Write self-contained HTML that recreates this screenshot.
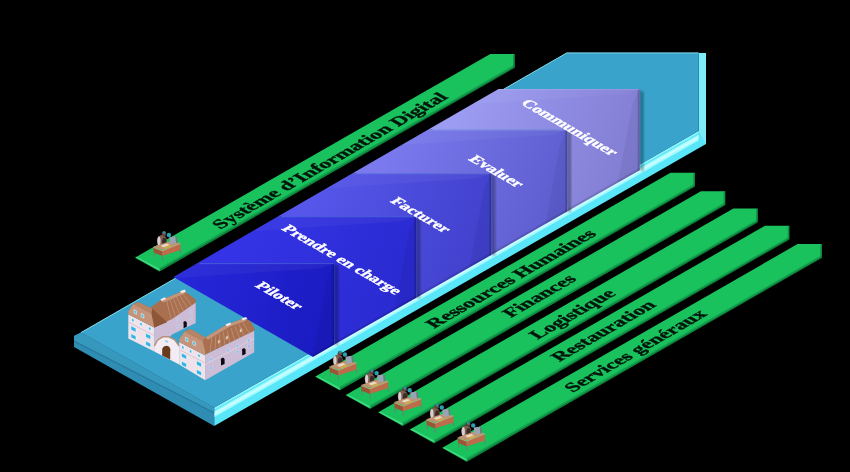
<!DOCTYPE html>
<html><head><meta charset="utf-8"><title>Diagram</title>
<style>
html,body{margin:0;padding:0;background:#000;}
body{width:850px;height:472px;overflow:hidden;}
svg{display:block;filter:blur(0.45px);}
text{font-family:"Liberation Serif",serif;font-weight:bold;}
.g{fill:#04140a;font-size:20px;stroke:#04140a;stroke-width:0.5px;}
.c{fill:#fff;font-size:20px;stroke:#fff;stroke-width:0.55px;}
</style></head><body>
<svg width="850" height="472" viewBox="0 0 850 472">
<defs>
<linearGradient id="gbar" gradientUnits="userSpaceOnUse" x1="0" y1="0" x2="13" y2="22.8">
<stop offset="0" stop-color="#22c465"/><stop offset="0.8" stop-color="#1fbf60"/><stop offset="1" stop-color="#0c7a38"/></linearGradient>
<linearGradient id="side" gradientUnits="userSpaceOnUse" x1="0" y1="0" x2="-9" y2="15.6">
<stop offset="0" stop-color="#62e6f6"/><stop offset="0.3" stop-color="#b4ffff"/><stop offset="0.5" stop-color="#6eeaf8"/><stop offset="1" stop-color="#52dcee"/></linearGradient>
<filter id="sh" x="-10%" y="-10%" width="130%" height="130%"><feGaussianBlur stdDeviation="1.2"/></filter>
</defs>
<rect width="850" height="472" fill="#000"/>

<polygon points="214.2,407.8 698.6,131.0 706.0,126.7 706.0,144.0 214.2,426.1" fill="#58e6f8"/>
<polygon points="214.2,411.3 698.6,134.5 698.6,140.5 214.2,417.3" fill="#b8ffff" opacity="0.8"/>
<polygon points="214.2,412.8 698.6,136.0 698.6,138.5 214.2,415.3" fill="#d8ffff" opacity="0.7"/>
<polygon points="214.2,407.8 698.6,131.0 698.6,133.0 214.2,409.8" fill="#8ff4ff"/>
<polygon points="698.6,52.9 706.0,52.9 706.0,144.0 698.6,131.0" fill="#7cecf8"/>
<polygon points="81.0,332.6 214.2,407.8 214.2,426.1 74.0,347.0 74.0,336.0" fill="#2f8cb2"/>
<polygon points="81.0,332.6 214.2,407.8 214.2,412.3 74.0,340.5 74.0,336.0" fill="#3798bd"/>
<polygon points="74.0,340.5 214.2,412.3 214.2,413.6 74.0,341.8" fill="#27789c"/>
<polygon points="81.0,332.6 566.8,52.9 698.6,52.9 698.6,131.0 214.2,407.8" fill="#3aa3cc"/>
<polyline points="81.0,332.6 566.8,52.9 698.6,52.9" fill="none" stroke="#7fe0f0" stroke-width="1"/>
<polygon points="639.7,90.0 643.7,92.0 643.7,171.2 639.7,170.2" fill="#000" opacity="0.3" filter="url(#sh)"/>
<linearGradient id="cg4" gradientUnits="userSpaceOnUse" x1="458" y1="109" x2="640" y2="170"><stop offset="0" stop-color="#9c9cf2"/><stop offset="1" stop-color="#807cd2"/></linearGradient>
<polygon points="427.9,129.8 498.5,89.0 639.7,89.0 639.7,170.2 567.2,211.6 567.2,129.8" fill="url(#cg4)"/>
<polygon points="498.5,89.0 639.7,89.0 625.7,94.0 472.5,104.0" fill="#fff" opacity="0.04"/>
<polyline points="498.5,89.5 639.7,89.5" stroke="#fff" stroke-opacity="0.12" stroke-width="1" fill="none"/>
<polygon points="639.7,89.0 639.7,170.2 617.7,182.7 632.7,103.0" fill="#000" opacity="0.05"/>
<polygon points="639.7,89.0 639.7,170.2 637.7,171.3 637.7,90.2" fill="#000" opacity="0.18"/>
<polygon points="639.7,170.2 567.2,211.6 567.2,209.1 639.7,167.7" fill="#000" opacity="0.12"/>
<polygon points="567.2,130.8 571.2,132.8 571.2,212.6 567.2,211.6" fill="#000" opacity="0.3" filter="url(#sh)"/>
<linearGradient id="cg3" gradientUnits="userSpaceOnUse" x1="388" y1="150" x2="567" y2="212"><stop offset="0" stop-color="#7a7aee"/><stop offset="1" stop-color="#5c5cce"/></linearGradient>
<polygon points="352.6,173.3 427.9,129.8 567.2,129.8 567.2,211.6 491.3,255.0 491.3,173.3" fill="url(#cg3)"/>
<polygon points="427.9,129.8 567.2,129.8 553.2,134.8 401.9,144.8" fill="#fff" opacity="0.04"/>
<polyline points="427.9,130.3 567.2,130.3" stroke="#fff" stroke-opacity="0.12" stroke-width="1" fill="none"/>
<polygon points="567.2,129.8 567.2,211.6 545.2,224.2 560.2,143.8" fill="#000" opacity="0.05"/>
<polygon points="567.2,129.8 567.2,211.6 565.2,212.7 565.2,131.0" fill="#000" opacity="0.18"/>
<polygon points="567.2,211.6 491.3,255.0 491.3,252.5 567.2,209.1" fill="#000" opacity="0.12"/>
<polygon points="491.3,174.3 495.3,176.3 495.3,256.0 491.3,255.0" fill="#000" opacity="0.3" filter="url(#sh)"/>
<linearGradient id="cg2" gradientUnits="userSpaceOnUse" x1="313" y1="193" x2="491" y2="255"><stop offset="0" stop-color="#5656ea"/><stop offset="1" stop-color="#4040cc"/></linearGradient>
<polygon points="278.2,216.3 352.6,173.3 491.3,173.3 491.3,255.0 416.3,297.8 416.3,216.3" fill="url(#cg2)"/>
<polygon points="352.6,173.3 491.3,173.3 477.3,178.3 326.6,188.3" fill="#fff" opacity="0.04"/>
<polyline points="352.6,173.8 491.3,173.8" stroke="#fff" stroke-opacity="0.12" stroke-width="1" fill="none"/>
<polygon points="491.3,173.3 491.3,255.0 469.3,267.5 484.3,187.3" fill="#000" opacity="0.05"/>
<polygon points="491.3,173.3 491.3,255.0 489.3,256.1 489.3,174.5" fill="#000" opacity="0.18"/>
<polygon points="491.3,255.0 416.3,297.8 416.3,295.3 491.3,252.5" fill="#000" opacity="0.12"/>
<polygon points="416.3,217.3 420.3,219.3 420.3,298.8 416.3,297.8" fill="#000" opacity="0.3" filter="url(#sh)"/>
<linearGradient id="cg1" gradientUnits="userSpaceOnUse" x1="238" y1="236" x2="416" y2="298"><stop offset="0" stop-color="#3434e6"/><stop offset="1" stop-color="#2a2ad0"/></linearGradient>
<polygon points="197.1,263.2 278.2,216.3 416.3,216.3 416.3,297.8 334.4,344.6 334.4,263.2" fill="url(#cg1)"/>
<polygon points="278.2,216.3 416.3,216.3 402.3,221.3 252.2,231.3" fill="#fff" opacity="0.04"/>
<polyline points="278.2,216.8 416.3,216.8" stroke="#fff" stroke-opacity="0.12" stroke-width="1" fill="none"/>
<polygon points="416.3,216.3 416.3,297.8 394.3,310.4 409.3,230.3" fill="#000" opacity="0.05"/>
<polygon points="416.3,216.3 416.3,297.8 414.3,299.0 414.3,217.5" fill="#000" opacity="0.18"/>
<polygon points="416.3,297.8 334.4,344.6 334.4,342.1 416.3,295.3" fill="#000" opacity="0.12"/>
<polygon points="334.4,264.2 338.4,266.2 338.4,345.6 334.4,344.6" fill="#000" opacity="0.3" filter="url(#sh)"/>
<linearGradient id="cg0" gradientUnits="userSpaceOnUse" x1="157" y1="283" x2="334" y2="345"><stop offset="0" stop-color="#2828dc"/><stop offset="1" stop-color="#1a1ac0"/></linearGradient>
<polygon points="173.4,276.9 197.1,263.2 334.4,263.2 334.4,344.6 313.0,356.9" fill="url(#cg0)"/>
<polygon points="197.1,263.2 334.4,263.2 320.4,268.2 171.1,278.2" fill="#fff" opacity="0.04"/>
<polyline points="197.1,263.7 334.4,263.7" stroke="#fff" stroke-opacity="0.12" stroke-width="1" fill="none"/>
<polygon points="334.4,263.2 334.4,344.6 312.4,357.2 327.4,277.2" fill="#000" opacity="0.05"/>
<polygon points="334.4,263.2 334.4,344.6 332.4,345.8 332.4,264.4" fill="#000" opacity="0.18"/>
<polygon points="334.4,344.6 313.0,356.8 313.0,354.3 334.4,342.1" fill="#000" opacity="0.12"/>
<polygon points="135.2,257.6 159.5,271.0 514.6,67.2 514.6,67.9 159.5,271.7 135.2,258.0" fill="#0a6a30"/>
<polygon points="135.2,257.6 490.3,53.9 514.6,53.9 514.6,67.2 159.5,271.0" fill="#1ac25e"/>
<polygon points="159.5,271.0 514.6,67.2 514.6,64.6 158.3,268.4" fill="#0e8a42" opacity="0.45"/>
<polygon points="159.5,271.0 514.6,67.2 514.6,66.0 159.0,269.8" fill="#0a6a30" opacity="0.55"/>
<polygon points="514.6,53.9 514.6,67.2 513.0,66.8 513.0,54.9" fill="#0a6a30" opacity="0.5"/>
<polygon points="135.2,257.6 159.5,271.0 160.1,269.0 137.8,257.3" fill="#5cf09a" opacity="0.55"/>
<polygon points="315.4,376.5 339.7,389.9 694.8,186.1 694.8,186.8 339.7,390.6 315.4,376.9" fill="#0a6a30"/>
<polygon points="315.4,376.5 670.5,172.8 694.8,172.8 694.8,186.1 339.7,389.9" fill="#1ac25e"/>
<polygon points="339.7,389.9 694.8,186.1 694.8,183.5 338.5,387.3" fill="#0e8a42" opacity="0.45"/>
<polygon points="339.7,389.9 694.8,186.1 694.8,184.9 339.2,388.7" fill="#0a6a30" opacity="0.55"/>
<polygon points="694.8,172.8 694.8,186.1 693.2,185.7 693.2,173.8" fill="#0a6a30" opacity="0.5"/>
<polygon points="315.4,376.5 339.7,389.9 340.3,387.9 318.0,376.2" fill="#5cf09a" opacity="0.55"/>
<polygon points="345.8,395.0 370.1,408.4 725.2,204.6 725.2,205.3 370.1,409.1 345.8,395.4" fill="#0a6a30"/>
<polygon points="345.8,395.0 700.9,191.3 725.2,191.3 725.2,204.6 370.1,408.4" fill="#1ac25e"/>
<polygon points="370.1,408.4 725.2,204.6 725.2,202.0 368.9,405.8" fill="#0e8a42" opacity="0.45"/>
<polygon points="370.1,408.4 725.2,204.6 725.2,203.4 369.6,407.2" fill="#0a6a30" opacity="0.55"/>
<polygon points="725.2,191.3 725.2,204.6 723.6,204.2 723.6,192.3" fill="#0a6a30" opacity="0.5"/>
<polygon points="345.8,395.0 370.1,408.4 370.7,406.4 348.4,394.7" fill="#5cf09a" opacity="0.55"/>
<polygon points="378.3,412.2 402.6,425.6 757.7,221.8 757.7,222.5 402.6,426.3 378.3,412.6" fill="#0a6a30"/>
<polygon points="378.3,412.2 733.4,208.5 757.7,208.5 757.7,221.8 402.6,425.6" fill="#1ac25e"/>
<polygon points="402.6,425.6 757.7,221.8 757.7,219.2 401.4,423.0" fill="#0e8a42" opacity="0.45"/>
<polygon points="402.6,425.6 757.7,221.8 757.7,220.6 402.1,424.4" fill="#0a6a30" opacity="0.55"/>
<polygon points="757.7,208.5 757.7,221.8 756.1,221.4 756.1,209.5" fill="#0a6a30" opacity="0.5"/>
<polygon points="378.3,412.2 402.6,425.6 403.2,423.6 380.9,411.9" fill="#5cf09a" opacity="0.55"/>
<polygon points="409.9,429.4 434.2,442.8 789.3,239.0 789.3,239.7 434.2,443.5 409.9,429.8" fill="#0a6a30"/>
<polygon points="409.9,429.4 765.0,225.7 789.3,225.7 789.3,239.0 434.2,442.8" fill="#1ac25e"/>
<polygon points="434.2,442.8 789.3,239.0 789.3,236.4 433.0,440.2" fill="#0e8a42" opacity="0.45"/>
<polygon points="434.2,442.8 789.3,239.0 789.3,237.8 433.7,441.6" fill="#0a6a30" opacity="0.55"/>
<polygon points="789.3,225.7 789.3,239.0 787.7,238.6 787.7,226.7" fill="#0a6a30" opacity="0.5"/>
<polygon points="409.9,429.4 434.2,442.8 434.8,440.8 412.5,429.1" fill="#5cf09a" opacity="0.55"/>
<polygon points="442.4,447.8 466.7,461.2 821.8,257.4 821.8,258.1 466.7,461.9 442.4,448.2" fill="#0a6a30"/>
<polygon points="442.4,447.8 797.5,244.1 821.8,244.1 821.8,257.4 466.7,461.2" fill="#1ac25e"/>
<polygon points="466.7,461.2 821.8,257.4 821.8,254.8 465.5,458.6" fill="#0e8a42" opacity="0.45"/>
<polygon points="466.7,461.2 821.8,257.4 821.8,256.2 466.2,460.0" fill="#0a6a30" opacity="0.55"/>
<polygon points="821.8,244.1 821.8,257.4 820.2,257.0 820.2,245.1" fill="#0a6a30" opacity="0.5"/>
<polygon points="442.4,447.8 466.7,461.2 467.3,459.2 445.0,447.5" fill="#5cf09a" opacity="0.55"/>
<text class="g" transform="matrix(0.8790,-0.5075,0.7735,0.4466,220.6,229.5)">Système d’Information Digital</text>
<text class="g" transform="matrix(0.8790,-0.5075,0.7735,0.4466,434.2,328.7)">Ressources Humaines</text>
<text class="g" transform="matrix(0.8790,-0.5075,0.7735,0.4466,511.0,318.0)">Finances</text>
<text class="g" transform="matrix(0.8790,-0.5075,0.7735,0.4466,537.8,339.8)">Logistique</text>
<text class="g" transform="matrix(0.8790,-0.5075,0.7735,0.4466,559.5,362.0)">Restauration</text>
<text class="g" transform="matrix(0.8790,-0.5075,0.7735,0.4466,572.7,392.7)">Services généraux</text>
<text class="c" transform="matrix(0.7274,0.4200,-0.6547,0.3780,254.3,286.0)">Piloter</text>
<text class="c" transform="matrix(0.7274,0.4200,-0.6547,0.3780,280.8,229.0)">Prendre en charge</text>
<text class="c" transform="matrix(0.7274,0.4200,-0.6547,0.3780,389.4,201.6)">Facturer</text>
<text class="c" transform="matrix(0.7274,0.4200,-0.6547,0.3780,467.8,159.5)">Evaluer</text>
<text class="c" transform="matrix(0.7274,0.4200,-0.6547,0.3780,520.0,103.6)">Communiquer</text>
<g><line x1="154.3" y1="252.6" x2="154.3" y2="257.0" stroke="#6f7d74" stroke-width="1"/><line x1="162.4" y1="256.0" x2="162.4" y2="260.4" stroke="#6f7d74" stroke-width="1"/><line x1="180.6" y1="250.0" x2="180.6" y2="253.6" stroke="#6f7d74" stroke-width="1"/><line x1="170.7" y1="246.2" x2="170.7" y2="249.2" stroke="#6f7d74" stroke-width="1"/><ellipse cx="161.9" cy="240.6" rx="5" ry="5.6" fill="#7d5f52"/><ellipse cx="159.0" cy="241.2" rx="1.6" ry="4.6" fill="#d9cfcf"/><ellipse cx="164.3" cy="241.7" rx="2.2" ry="4" fill="#3a2a2a"/><circle cx="163.9" cy="233.9" r="2.3" fill="#6a3f3a"/><circle cx="164.1" cy="232.6" r="1.5" fill="#2a8fa0"/><circle cx="168.9" cy="235.0" r="2.2" fill="#2aa0b0"/><polygon points="153.3,246.8 169.2,241.4 180.5,242.9 162.9,250.0" fill="#c39270"/><polygon points="160.7,245.7 166.7,243.6 169.7,244.8 163.7,247.2" fill="#e8dcc8"/><polygon points="163.7,247.6 169.7,245.4 171.7,246.2 165.7,248.6" fill="#d8b040"/><polygon points="169.4,237.2 175.5,236.3 176.1,243.3 170.4,244.2" fill="#9aa3b4"/><polygon points="175.5,236.3 177.1,237.2 177.5,242.6 176.1,243.3" fill="#6f7888"/><polygon points="153.3,247.3 162.2,251.0 162.4,256.0 153.8,252.6" fill="#9a5436"/><polygon points="162.2,251.0 180.5,243.6 180.6,250.0 162.4,256.0" fill="#bc6c4a"/><polyline points="153.3,247.3 162.2,250.8 180.5,243.4" fill="none" stroke="#e0b090" stroke-width="0.7"/></g>
<g><line x1="330.3" y1="372.1" x2="330.3" y2="376.5" stroke="#6f7d74" stroke-width="1"/><line x1="338.4" y1="375.5" x2="338.4" y2="379.9" stroke="#6f7d74" stroke-width="1"/><line x1="356.6" y1="369.5" x2="356.6" y2="373.1" stroke="#6f7d74" stroke-width="1"/><line x1="346.7" y1="365.7" x2="346.7" y2="368.7" stroke="#6f7d74" stroke-width="1"/><ellipse cx="337.9" cy="360.1" rx="5" ry="5.6" fill="#7d5f52"/><ellipse cx="335.0" cy="360.7" rx="1.6" ry="4.6" fill="#d9cfcf"/><ellipse cx="340.3" cy="361.2" rx="2.2" ry="4" fill="#3a2a2a"/><circle cx="339.9" cy="353.4" r="2.3" fill="#6a3f3a"/><circle cx="340.1" cy="352.1" r="1.5" fill="#2a8fa0"/><circle cx="344.9" cy="354.5" r="2.2" fill="#2aa0b0"/><polygon points="329.3,366.3 345.2,360.9 356.5,362.4 338.9,369.5" fill="#c39270"/><polygon points="336.7,365.2 342.7,363.1 345.7,364.3 339.7,366.7" fill="#e8dcc8"/><polygon points="339.7,367.1 345.7,364.9 347.7,365.7 341.7,368.1" fill="#d8b040"/><polygon points="345.4,356.7 351.5,355.8 352.1,362.8 346.4,363.7" fill="#9aa3b4"/><polygon points="351.5,355.8 353.1,356.7 353.5,362.1 352.1,362.8" fill="#6f7888"/><polygon points="329.3,366.8 338.2,370.5 338.4,375.5 329.8,372.1" fill="#9a5436"/><polygon points="338.2,370.5 356.5,363.1 356.6,369.5 338.4,375.5" fill="#bc6c4a"/><polyline points="329.3,366.8 338.2,370.3 356.5,362.9" fill="none" stroke="#e0b090" stroke-width="0.7"/></g>
<g><line x1="362.0" y1="390.7" x2="362.0" y2="395.1" stroke="#6f7d74" stroke-width="1"/><line x1="370.1" y1="394.1" x2="370.1" y2="398.5" stroke="#6f7d74" stroke-width="1"/><line x1="388.3" y1="388.1" x2="388.3" y2="391.7" stroke="#6f7d74" stroke-width="1"/><line x1="378.4" y1="384.3" x2="378.4" y2="387.3" stroke="#6f7d74" stroke-width="1"/><ellipse cx="369.6" cy="378.7" rx="5" ry="5.6" fill="#7d5f52"/><ellipse cx="366.7" cy="379.3" rx="1.6" ry="4.6" fill="#d9cfcf"/><ellipse cx="372.0" cy="379.8" rx="2.2" ry="4" fill="#3a2a2a"/><circle cx="371.6" cy="372.0" r="2.3" fill="#6a3f3a"/><circle cx="371.8" cy="370.7" r="1.5" fill="#2a8fa0"/><circle cx="376.6" cy="373.1" r="2.2" fill="#2aa0b0"/><polygon points="361.0,384.9 376.9,379.5 388.2,381.0 370.6,388.1" fill="#c39270"/><polygon points="368.4,383.8 374.4,381.7 377.4,382.9 371.4,385.3" fill="#e8dcc8"/><polygon points="371.4,385.7 377.4,383.5 379.4,384.3 373.4,386.7" fill="#d8b040"/><polygon points="377.1,375.3 383.2,374.4 383.8,381.4 378.1,382.3" fill="#9aa3b4"/><polygon points="383.2,374.4 384.8,375.3 385.2,380.7 383.8,381.4" fill="#6f7888"/><polygon points="361.0,385.4 369.9,389.1 370.1,394.1 361.5,390.7" fill="#9a5436"/><polygon points="369.9,389.1 388.2,381.7 388.3,388.1 370.1,394.1" fill="#bc6c4a"/><polyline points="361.0,385.4 369.9,388.9 388.2,381.5" fill="none" stroke="#e0b090" stroke-width="0.7"/></g>
<g><line x1="395.1" y1="407.9" x2="395.1" y2="412.3" stroke="#6f7d74" stroke-width="1"/><line x1="403.2" y1="411.3" x2="403.2" y2="415.7" stroke="#6f7d74" stroke-width="1"/><line x1="421.4" y1="405.3" x2="421.4" y2="408.9" stroke="#6f7d74" stroke-width="1"/><line x1="411.5" y1="401.5" x2="411.5" y2="404.5" stroke="#6f7d74" stroke-width="1"/><ellipse cx="402.7" cy="395.9" rx="5" ry="5.6" fill="#7d5f52"/><ellipse cx="399.8" cy="396.5" rx="1.6" ry="4.6" fill="#d9cfcf"/><ellipse cx="405.1" cy="397.0" rx="2.2" ry="4" fill="#3a2a2a"/><circle cx="404.7" cy="389.2" r="2.3" fill="#6a3f3a"/><circle cx="404.9" cy="387.9" r="1.5" fill="#2a8fa0"/><circle cx="409.7" cy="390.3" r="2.2" fill="#2aa0b0"/><polygon points="394.1,402.1 410.0,396.7 421.3,398.2 403.7,405.3" fill="#c39270"/><polygon points="401.5,401.0 407.5,398.9 410.5,400.1 404.5,402.5" fill="#e8dcc8"/><polygon points="404.5,402.9 410.5,400.7 412.5,401.5 406.5,403.9" fill="#d8b040"/><polygon points="410.2,392.5 416.3,391.6 416.9,398.6 411.2,399.5" fill="#9aa3b4"/><polygon points="416.3,391.6 417.9,392.5 418.3,397.9 416.9,398.6" fill="#6f7888"/><polygon points="394.1,402.6 403.0,406.3 403.2,411.3 394.6,407.9" fill="#9a5436"/><polygon points="403.0,406.3 421.3,398.9 421.4,405.3 403.2,411.3" fill="#bc6c4a"/><polyline points="394.1,402.6 403.0,406.1 421.3,398.7" fill="none" stroke="#e0b090" stroke-width="0.7"/></g>
<g><line x1="427.2" y1="425.1" x2="427.2" y2="429.5" stroke="#6f7d74" stroke-width="1"/><line x1="435.3" y1="428.5" x2="435.3" y2="432.9" stroke="#6f7d74" stroke-width="1"/><line x1="453.5" y1="422.5" x2="453.5" y2="426.1" stroke="#6f7d74" stroke-width="1"/><line x1="443.6" y1="418.7" x2="443.6" y2="421.7" stroke="#6f7d74" stroke-width="1"/><ellipse cx="434.8" cy="413.1" rx="5" ry="5.6" fill="#7d5f52"/><ellipse cx="431.9" cy="413.7" rx="1.6" ry="4.6" fill="#d9cfcf"/><ellipse cx="437.2" cy="414.2" rx="2.2" ry="4" fill="#3a2a2a"/><circle cx="436.8" cy="406.4" r="2.3" fill="#6a3f3a"/><circle cx="437.0" cy="405.1" r="1.5" fill="#2a8fa0"/><circle cx="441.8" cy="407.5" r="2.2" fill="#2aa0b0"/><polygon points="426.2,419.3 442.1,413.9 453.4,415.4 435.8,422.5" fill="#c39270"/><polygon points="433.6,418.2 439.6,416.1 442.6,417.3 436.6,419.7" fill="#e8dcc8"/><polygon points="436.6,420.1 442.6,417.9 444.6,418.7 438.6,421.1" fill="#d8b040"/><polygon points="442.3,409.7 448.4,408.8 449.0,415.8 443.3,416.7" fill="#9aa3b4"/><polygon points="448.4,408.8 450.0,409.7 450.4,415.1 449.0,415.8" fill="#6f7888"/><polygon points="426.2,419.8 435.1,423.5 435.3,428.5 426.7,425.1" fill="#9a5436"/><polygon points="435.1,423.5 453.4,416.1 453.5,422.5 435.3,428.5" fill="#bc6c4a"/><polyline points="426.2,419.8 435.1,423.3 453.4,415.9" fill="none" stroke="#e0b090" stroke-width="0.7"/></g>
<g><line x1="458.6" y1="443.0" x2="458.6" y2="447.4" stroke="#6f7d74" stroke-width="1"/><line x1="466.7" y1="446.4" x2="466.7" y2="450.8" stroke="#6f7d74" stroke-width="1"/><line x1="484.9" y1="440.4" x2="484.9" y2="444.0" stroke="#6f7d74" stroke-width="1"/><line x1="475.0" y1="436.6" x2="475.0" y2="439.6" stroke="#6f7d74" stroke-width="1"/><ellipse cx="466.2" cy="431.0" rx="5" ry="5.6" fill="#7d5f52"/><ellipse cx="463.3" cy="431.6" rx="1.6" ry="4.6" fill="#d9cfcf"/><ellipse cx="468.6" cy="432.1" rx="2.2" ry="4" fill="#3a2a2a"/><circle cx="468.2" cy="424.3" r="2.3" fill="#6a3f3a"/><circle cx="468.4" cy="423.0" r="1.5" fill="#2a8fa0"/><circle cx="473.2" cy="425.4" r="2.2" fill="#2aa0b0"/><polygon points="457.6,437.2 473.5,431.8 484.8,433.3 467.2,440.4" fill="#c39270"/><polygon points="465.0,436.1 471.0,434.0 474.0,435.2 468.0,437.6" fill="#e8dcc8"/><polygon points="468.0,438.0 474.0,435.8 476.0,436.6 470.0,439.0" fill="#d8b040"/><polygon points="473.7,427.6 479.8,426.7 480.4,433.7 474.7,434.6" fill="#9aa3b4"/><polygon points="479.8,426.7 481.4,427.6 481.8,433.0 480.4,433.7" fill="#6f7888"/><polygon points="457.6,437.7 466.5,441.4 466.7,446.4 458.1,443.0" fill="#9a5436"/><polygon points="466.5,441.4 484.8,434.0 484.9,440.4 466.7,446.4" fill="#bc6c4a"/><polyline points="457.6,437.7 466.5,441.2 484.8,433.8" fill="none" stroke="#e0b090" stroke-width="0.7"/></g>
<g id="building">
<polygon points="151.0,307.0 161.0,300.0 184.0,291.0 195.5,299.5 195.5,321.0 172.0,334.0 167.0,322.0 154.0,328.0 152.0,312.0" fill="#a9704f" />
<polygon points="167.0,322.5 195.7,302.5 195.7,323.0 172.0,334.6 170.9,331.0" fill="#cdbcd6" />
<polygon points="151.8,307.3 160.7,300.3 183.6,290.7 195.1,299.0 195.7,302.5 167.1,322.0" fill="#a9704f" />
<polygon points="160.7,300.3 183.6,290.7 186.5,292.8 163.5,302.6" fill="#c4957a" />
<polygon points="160.5,299.3 165.0,297.2 166.0,299.0 161.6,301.0" fill="#f4eaea" />
<polygon points="180.0,291.2 184.5,289.6 186.0,291.6 181.6,293.2" fill="#f4eaea" />
<path d="M183.6 328.2 v-4.2 a1.7 2 -25 0 1 3.2 -1.5 v4.2 z" fill="#0a0a12"/>
<polygon points="176.5,318.5 178.7,317.4 178.7,320.2 176.5,321.3" fill="#a9c4e8" stroke="#d8cce4" stroke-width="0.6"/>
<polygon points="176.8,325.5 179.0,324.4 179.0,327.2 176.8,328.3" fill="#a9c4e8" stroke="#d8cce4" stroke-width="0.6"/>
<polygon points="190.0,311.0 192.2,309.9 192.2,312.7 190.0,313.8" fill="#a9c4e8" stroke="#d8cce4" stroke-width="0.6"/>
<polygon points="190.2,317.0 192.4,315.9 192.4,318.7 190.2,319.8" fill="#a9c4e8" stroke="#d8cce4" stroke-width="0.6"/>
<polygon points="154.3,327.6 170.9,319.4 172.2,334.6 154.3,350.8" fill="#cdbcd6" />
<polygon points="128.3,314.3 154.3,327.6 154.3,351.4 128.3,338.4" fill="#efe2ea" />
<polyline points="128.3,322.2 154.3,335.6" stroke="#d4b8c8" stroke-width="0.7" fill="none"/>
<polygon points="131.6,318.0 134.0,319.2 134.0,322.2 131.6,321.0" fill="#38b4e4" stroke="#ffffff" stroke-width="0.6"/>
<polygon points="139.8,322.1 142.2,323.3 142.2,326.3 139.8,325.1" fill="#38b4e4" stroke="#ffffff" stroke-width="0.6"/>
<polygon points="148.6,326.5 151.0,327.7 151.0,330.7 148.6,329.5" fill="#38b4e4" stroke="#ffffff" stroke-width="0.6"/>
<polygon points="130.8,325.6 136.0,328.2 136.0,332.4 130.8,329.8" fill="#38b4e4" stroke="#ffffff" stroke-width="0.6"/>
<polygon points="130.8,333.4 136.0,336.0 136.0,340.2 130.8,337.6" fill="#38b4e4" stroke="#ffffff" stroke-width="0.6"/>
<polygon points="145.6,333.0 150.8,335.6 150.8,339.8 145.6,337.2" fill="#38b4e4" stroke="#ffffff" stroke-width="0.6"/>
<polygon points="145.6,340.8 150.8,343.4 150.8,347.6 145.6,345.0" fill="#38b4e4" stroke="#ffffff" stroke-width="0.6"/>
<polygon points="128.3,314.3 128.3,311.0 133.4,304.1 138.5,302.2 152.0,308.4 167.1,322.0 154.3,327.6" fill="#a9704f" />
<polygon points="128.3,311.4 133.4,304.1 151.5,313.5 154.3,324.8 154.3,327.6 128.3,314.3" fill="#c4957a" />
<polygon points="151.5,313.5 152.0,308.4 167.1,322.0 154.3,327.6" fill="#8c5638" />
<polygon points="133.4,304.1 138.5,302.2 152.0,308.4 151.5,313.5" fill="#b88466" />
<polygon points="134.0,309.6 136.6,310.9 136.6,314.3 134.0,313.0" fill="#4cc0e8" stroke="#f4ecf0" stroke-width="0.6"/>
<polygon points="141.2,313.4 143.8,314.7 143.8,318.1 141.2,316.8" fill="#4cc0e8" stroke="#f4ecf0" stroke-width="0.6"/>
<polygon points="205.2,354.6 254.2,330.6 254.2,352.2 205.2,380.2" fill="#cdbcd6" />
<polyline points="205.2,364.5 254.2,338.5" stroke="#e6d6e6" stroke-width="0.7" fill="none"/>
<polygon points="209.5,358.5 212.1,357.2 212.1,360.2 209.5,361.5" fill="#7cc4ec" stroke="#e0d4ea" stroke-width="0.6"/>
<polygon points="209.8,367.0 212.4,365.7 212.4,368.7 209.8,370.0" fill="#7cc4ec" stroke="#e0d4ea" stroke-width="0.6"/>
<polygon points="236.0,345.0 238.6,343.7 238.6,346.7 236.0,348.0" fill="#7cc4ec" stroke="#e0d4ea" stroke-width="0.6"/>
<polygon points="236.2,351.0 238.8,349.7 238.8,352.7 236.2,354.0" fill="#7cc4ec" stroke="#e0d4ea" stroke-width="0.6"/>
<polygon points="247.5,339.5 250.1,338.2 250.1,341.2 247.5,342.5" fill="#7cc4ec" stroke="#e0d4ea" stroke-width="0.6"/>
<polygon points="247.8,345.5 250.4,344.2 250.4,347.2 247.8,348.5" fill="#7cc4ec" stroke="#e0d4ea" stroke-width="0.6"/>
<polygon points="227.0,349.5 229.6,348.2 229.6,351.2 227.0,352.5" fill="#7cc4ec" stroke="#e0d4ea" stroke-width="0.6"/>
<path d="M221 365.6 v-4.6 a1.9 2.2 -25 0 1 3.6 -1.7 v4.6 z" fill="#0a0a12"/>
<path d="M242.2 355.6 v-4.4 a1.8 2.1 -25 0 1 3.4 -1.6 v4.4 z" fill="#0a0a12"/>
<polygon points="179.2,342.0 205.2,355.5 205.2,380.2 179.2,364.6" fill="#efe2ea" />
<polyline points="179.2,349.6 205.2,363.2" stroke="#d4b8c8" stroke-width="0.7" fill="none"/>
<polygon points="181.6,345.2 184.0,346.4 184.0,349.4 181.6,348.2" fill="#38b4e4" stroke="#ffffff" stroke-width="0.6"/>
<polygon points="189.4,349.3 191.8,350.5 191.8,353.5 189.4,352.3" fill="#38b4e4" stroke="#ffffff" stroke-width="0.6"/>
<polygon points="197.8,353.6 200.2,354.8 200.2,357.8 197.8,356.6" fill="#38b4e4" stroke="#ffffff" stroke-width="0.6"/>
<polygon points="181.4,352.8 186.6,355.4 186.6,359.6 181.4,357.0" fill="#38b4e4" stroke="#ffffff" stroke-width="0.6"/>
<polygon points="181.4,361.0 186.6,363.6 186.6,367.8 181.4,365.2" fill="#38b4e4" stroke="#ffffff" stroke-width="0.6"/>
<polygon points="196.4,360.6 201.6,363.2 201.6,367.4 196.4,364.8" fill="#38b4e4" stroke="#ffffff" stroke-width="0.6"/>
<polygon points="196.4,369.2 201.6,371.9 201.6,376.1 196.4,373.4" fill="#38b4e4" stroke="#ffffff" stroke-width="0.6"/>
<polygon points="205.2,354.6 201.5,341.0 205.3,337.6 226.9,324.6 243.6,318.6 250.0,320.8 254.6,328.6 254.2,330.8" fill="#a9704f" />
<polygon points="205.3,337.6 226.9,324.6 243.6,318.6 246.5,320.4 229.5,326.8 208.0,339.8" fill="#c4957a" />
<polygon points="225.5,324.4 230.0,322.4 231.4,324.2 226.8,326.4" fill="#f4eaea" />
<polygon points="241.5,318.6 246.0,317.0 247.4,318.8 242.8,320.6" fill="#f4eaea" />
<polygon points="218.0,340.8 220.0,339.8 220.0,342.4 218.0,343.4" fill="#e6dcc8" stroke="#caa58c" stroke-width="0.6"/>
<polygon points="226.0,336.8 228.0,335.8 228.0,338.4 226.0,339.4" fill="#e6dcc8" stroke="#caa58c" stroke-width="0.6"/>
<polygon points="240.0,329.6 242.0,328.6 242.0,331.2 240.0,332.2" fill="#e6dcc8" stroke="#caa58c" stroke-width="0.6"/>
<polygon points="179.2,342.0 179.2,339.2 184.6,331.6 190.5,329.0 205.3,337.6 201.5,341.0 205.2,354.6" fill="#a9704f" />
<polygon points="179.2,339.2 184.6,331.6 202.6,341.0 205.2,352.0 205.2,355.5 179.2,342.0" fill="#c4957a" />
<polygon points="184.6,331.6 190.5,329.0 205.3,337.6 202.6,341.0" fill="#b88466" />
<polygon points="185.4,337.2 188.0,338.5 188.0,341.9 185.4,340.6" fill="#4cc0e8" stroke="#f4ecf0" stroke-width="0.6"/>
<polygon points="192.8,341.0 195.4,342.3 195.4,345.7 192.8,344.4" fill="#4cc0e8" stroke="#f4ecf0" stroke-width="0.6"/>
<line x1="211.8" y1="337.9" x2="210.1" y2="352.2" stroke="#caa28a" stroke-width="0.8" opacity="0.7"/>
<line x1="215.7" y1="335.9" x2="215.0" y2="349.8" stroke="#caa28a" stroke-width="0.8" opacity="0.7"/>
<line x1="219.6" y1="334.0" x2="219.9" y2="347.5" stroke="#caa28a" stroke-width="0.8" opacity="0.7"/>
<line x1="223.4" y1="332.0" x2="224.8" y2="345.1" stroke="#caa28a" stroke-width="0.8" opacity="0.7"/>
<line x1="227.2" y1="330.1" x2="229.7" y2="342.7" stroke="#caa28a" stroke-width="0.8" opacity="0.7"/>
<line x1="231.1" y1="328.2" x2="234.6" y2="340.3" stroke="#caa28a" stroke-width="0.8" opacity="0.7"/>
<line x1="234.9" y1="326.2" x2="239.5" y2="337.9" stroke="#caa28a" stroke-width="0.8" opacity="0.7"/>
<line x1="238.8" y1="324.3" x2="244.4" y2="335.6" stroke="#caa28a" stroke-width="0.8" opacity="0.7"/>
<line x1="242.7" y1="322.3" x2="249.3" y2="333.2" stroke="#caa28a" stroke-width="0.8" opacity="0.7"/>
<line x1="166.8" y1="301.2" x2="171.2" y2="319.2" stroke="#caa28a" stroke-width="0.8" opacity="0.7"/>
<line x1="170.1" y1="299.8" x2="175.3" y2="316.4" stroke="#caa28a" stroke-width="0.8" opacity="0.7"/>
<line x1="173.4" y1="298.4" x2="179.4" y2="313.6" stroke="#caa28a" stroke-width="0.8" opacity="0.7"/>
<line x1="176.6" y1="297.0" x2="183.4" y2="310.9" stroke="#caa28a" stroke-width="0.8" opacity="0.7"/>
<line x1="179.9" y1="295.6" x2="187.5" y2="308.1" stroke="#caa28a" stroke-width="0.8" opacity="0.7"/>
<line x1="183.2" y1="294.2" x2="191.6" y2="305.3" stroke="#caa28a" stroke-width="0.8" opacity="0.7"/>
<polygon points="154.3,346.2 157.5,340.2 162.6,336.8 168.6,336.8 174.6,339.8 179.2,346.2 179.2,364.4 154.3,351.6" fill="#f3edf3" />
<path d="M154.3 346.2 L157.5 340.2 L162.6 336.8 L168.6 336.8 L174.6 339.8 L179.2 346.2" fill="none" stroke="#b98f7c" stroke-width="1.4"/>
<path d="M162.2 355.6 v-6.6 a4 4.4 25 0 1 8 2.6 v8 z" fill="#6a3a1c"/>
<ellipse cx="166.6" cy="341.4" rx="1.8" ry="0.9" fill="#8ccce8" transform="rotate(25 166.6 341.4)"/>
</g>
</svg></body></html>
